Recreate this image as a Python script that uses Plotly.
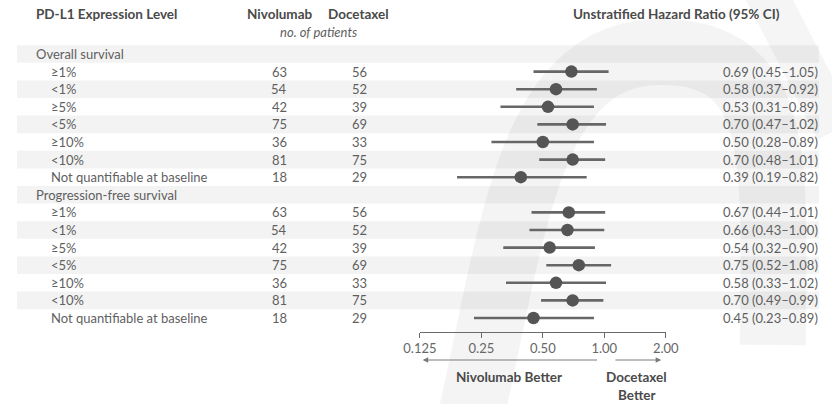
import math
import plotly.graph_objects as go

# ---- data -------------------------------------------------------------
group_titles = ["Overall survival", "Progression-free survival"]
pdl1_levels = ["≥1%", "<1%", "≥5%", "<5%", "≥10%", "<10%",
               "Not quantifiable at baseline"]
nivolumab_n = [63, 54, 42, 75, 36, 81, 18]
docetaxel_n = [56, 52, 39, 69, 33, 75, 29]

os_hr = [0.69, 0.58, 0.53, 0.70, 0.50, 0.70, 0.39]
os_lo = [0.45, 0.37, 0.31, 0.47, 0.28, 0.48, 0.19]
os_hi = [1.05, 0.92, 0.89, 1.02, 0.89, 1.01, 0.82]

pfs_hr = [0.67, 0.66, 0.54, 0.75, 0.58, 0.70, 0.45]
pfs_lo = [0.44, 0.43, 0.32, 0.52, 0.33, 0.49, 0.23]
pfs_hi = [1.01, 1.00, 0.90, 1.08, 1.02, 0.99, 0.89]

tick_values = [0.125, 0.25, 0.5, 1.0, 2.0]
tick_labels = ["0.125", "0.25", "0.50", "1.00", "2.00"]

# ---- page geometry (pixels) -------------------------------------------
W, H = 832, 404
ROW0_PX = 54.0      # centre of the first table row
PITCH = 17.6        # row height
AXIS_PX = 331.5     # baseline of the hazard-ratio axis
PLOT_L, PLOT_R = 418, 673

def row_of(px):
    return (px - ROW0_PX) / PITCH

def fx(px):
    return px / W

def fy(px):
    return 1 - px / H

FONT = "Lato"
TXT = "#5f5f5f"
HEAD = "#4a4a4a"
LABEL_SIZE = 13
HEAD_SIZE = 13.5
NUM_SIZE = 13

# ---- build the row table ---------------------------------------------
rows = []  # (label, is_header, nivo, doce, hr, lo, hi)
for title, hr, lo, hi in [(group_titles[0], os_hr, os_lo, os_hi),
                          (group_titles[1], pfs_hr, pfs_lo, pfs_hi)]:
    rows.append((title, True, None, None, None, None, None))
    for k, lvl in enumerate(pdl1_levels):
        rows.append((lvl, False, nivolumab_n[k], docetaxel_n[k],
                     hr[k], lo[k], hi[k]))

fig = go.Figure()

# confidence-interval segments and point estimates
ci_x, ci_y = [], []
pt_x, pt_y = [], []
for i, r in enumerate(rows):
    if r[1]:
        continue
    ci_x += [r[5], r[6], None]
    ci_y += [i, i, None]
    pt_x.append(r[4])
    pt_y.append(i)

fig.add_trace(go.Scatter(x=ci_x, y=ci_y, mode="lines",
                         line=dict(color="#676767", width=2.6),
                         hoverinfo="skip", showlegend=False))
fig.add_trace(go.Scatter(x=pt_x, y=pt_y, mode="markers",
                         marker=dict(color="#555555", size=12.5,
                                     line=dict(width=0)),
                         showlegend=False))

shapes = []
# alternating row stripes
for i in range(len(rows)):
    if i % 2 == 0:
        shapes.append(dict(type="rect", xref="paper", yref="y",
                           x0=0, x1=1, y0=i - 0.5, y1=i + 0.5,
                           fillcolor="#f3f3f3", line=dict(width=0),
                           layer="below"))

# faint publisher emblem behind the panel
def pt(x, y):
    return f"{fx(x):.4f},{fy(y):.4f}"

arch = (f"M {pt(470, 420)} C {pt(515, 230)} {pt(530, 52)} {pt(668, 52)} "
        f"C {pt(795, 52)} {pt(786, 160)} {pt(784, 345)}")
shapes.append(dict(type="path", xref="paper", yref="paper", path=arch,
                   line=dict(color="rgba(0,0,0,0.045)", width=66),
                   layer="below"))
shapes.append(dict(type="path", xref="paper", yref="paper",
                   path=f"M {pt(770, -20)} L {pt(850, 130)}",
                   line=dict(color="rgba(0,0,0,0.04)", width=42),
                   layer="below"))

# line of no effect
shapes.append(dict(type="line", xref="x", yref="y",
                   x0=math.log10(1.0), x1=math.log10(1.0),
                   y0=-0.5, y1=row_of(AXIS_PX),
                   line=dict(color="#7a7a7a", width=1.1, dash="3px,3px")))

ann = []
def text(x, y, s, size=LABEL_SIZE, color=TXT, bold=False, italic=False,
         xanchor="left", xref="paper", yref="paper"):
    if bold:
        s = "<b>" + s + "</b>"
    if italic:
        s = "<i>" + s + "</i>"
    ann.append(dict(x=x, y=y, xref=xref, yref=yref, text=s,
                    showarrow=False, xanchor=xanchor, yanchor="middle",
                    font=dict(family=FONT, size=size, color=color)))

# column headers
text(fx(18), fy(14), "PD-L1 Expression Level", size=HEAD_SIZE, bold=True,
     color=HEAD)
text(fx(273), fy(14), "Nivolumab", size=HEAD_SIZE, bold=True, color=HEAD,
     xanchor="center")
text(fx(354), fy(14), "Docetaxel", size=HEAD_SIZE, bold=True, color=HEAD,
     xanchor="center")
text(fx(313), fy(32), "no. of patients", italic=True, xanchor="center")
text(fx(684), fy(14), "Unstratified Hazard Ratio (95% CI)", size=HEAD_SIZE,
     bold=True, color=HEAD, xanchor="center")

# table body
for i, r in enumerate(rows):
    label, is_head, nv, dc, hr, lo, hi = r
    if is_head:
        text(fx(18), i, label, yref="y")
        continue
    text(fx(33), i, label, yref="y")
    text(fx(272), i, str(nv), size=NUM_SIZE, yref="y", xanchor="center")
    text(fx(355), i, str(dc), size=NUM_SIZE, yref="y", xanchor="center")
    text(fx(730), i, f"{hr:.2f} ({lo:.2f}\u2013{hi:.2f})", size=NUM_SIZE,
         yref="y")

# direction arrows and captions
arrow_row = row_of(360)
for tip, tail in [(0.129, 0.937), (1.90, 1.115)]:
    ann.append(dict(x=math.log10(tip), y=arrow_row, xref="x", yref="y",
                    ax=math.log10(tail), ay=arrow_row, axref="x", ayref="y",
                    text="", showarrow=True, arrowhead=2, arrowsize=1.1,
                    arrowwidth=1, arrowcolor="#7a7a7a"))
text(fx(510), fy(377), "Nivolumab Better", size=HEAD_SIZE, bold=True,
     color=HEAD, xanchor="center")
text(fx(643), fy(377), "Docetaxel", size=HEAD_SIZE, bold=True, color=HEAD,
     xanchor="center")
text(fx(643), fy(395), "Better", size=HEAD_SIZE, bold=True, color=HEAD,
     xanchor="center")

fig.update_layout(
    width=W, height=H,
    margin=dict(l=0, r=0, t=0, b=0),
    paper_bgcolor="white", plot_bgcolor="rgba(0,0,0,0)",
    shapes=shapes, annotations=ann,
    xaxis=dict(type="log",
               range=[math.log10(tick_values[0]), math.log10(tick_values[-1])],
               domain=[fx(PLOT_L), fx(PLOT_R)],
               anchor="free", position=fy(AXIS_PX),
               showline=True, linecolor="#6a6a6a", linewidth=1,
               ticks="outside", ticklen=5, tickcolor="#6a6a6a",
               tickvals=tick_values, ticktext=tick_labels,
               tickfont=dict(family=FONT, size=13, color="#666666"),
               showgrid=False, zeroline=False, fixedrange=True),
    yaxis=dict(range=[row_of(H), row_of(0)], domain=[0, 1],
               visible=False, fixedrange=True),
    showlegend=False,
)

fig.write_html("out.html")
